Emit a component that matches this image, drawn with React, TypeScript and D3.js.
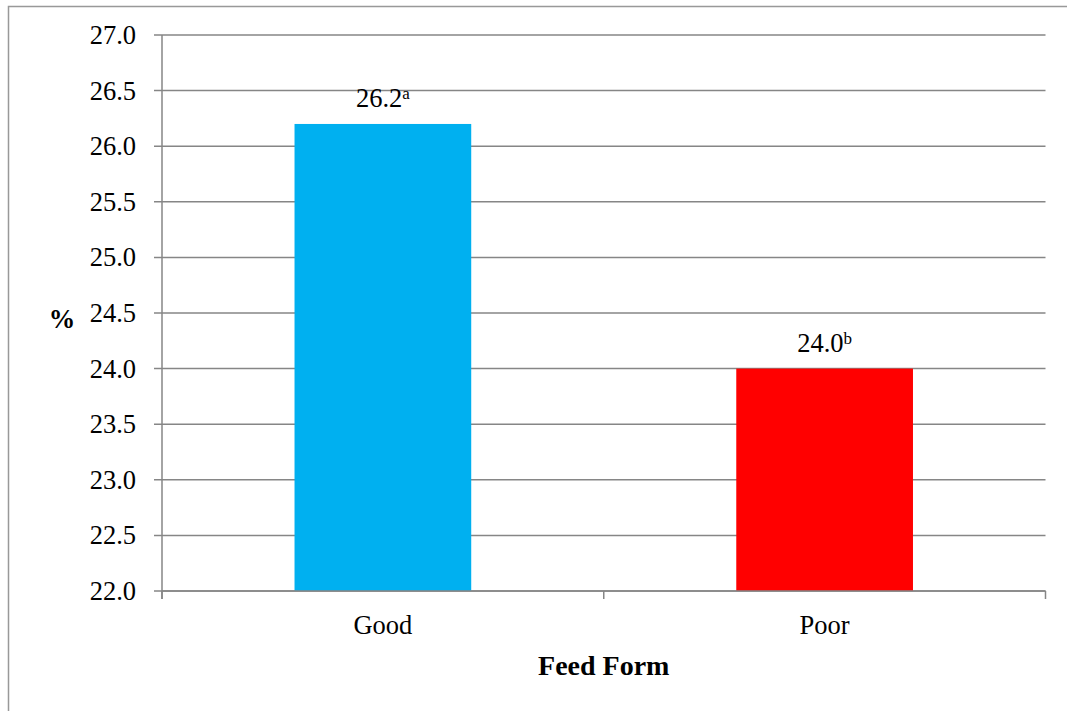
import React from "react";
import * as d3 from "d3";

const categories = ["Good", "Poor"];
const values = [26.2, 24.0];
const superscripts = ["a", "b"];
const barColors = ["#00B0F0", "#FF0000"];
const yTicks = [22.0, 22.5, 23.0, 23.5, 24.0, 24.5, 25.0, 25.5, 26.0, 26.5, 27.0];

const W = 1067;
const H = 711;
const margin = { left: 162, right: 1045.5, top: 35, bottom: 591 };
const FONT = "'Liberation Serif', 'Times New Roman', serif";
const GRID = "#868686";

export default function App() {
  const x = d3.scaleBand<string>().domain(categories).range([margin.left, margin.right]).paddingInner(0.6).paddingOuter(0.3);
  const xOuter = d3.scaleBand<string>().domain(categories).range([margin.left, margin.right]);
  const y = d3.scaleLinear().domain([22, 27]).range([margin.bottom, margin.top]);
  const fs = 26.5;

  return (
    <svg width={W} height={H} style={{ position: "absolute", left: 0, top: 0, display: "block", background: "#fff" }} fontFamily={FONT}>
      <rect x={8.5} y={6.5} width={W + 10} height={H + 10} fill="#fff" stroke="#999" strokeWidth={1.5} />
      {yTicks.map((t) => (
        <g key={t}>
          <line x1={margin.left - 8} x2={margin.right} y1={y(t)} y2={y(t)} stroke={GRID} strokeWidth={1.5} />
          <text x={136} y={y(t)} dy="0.34em" textAnchor="end" fontSize={fs} fill="#000">
            {t.toFixed(1)}
          </text>
        </g>
      ))}
      {categories.map((c, i) => (
        <rect key={c} x={x(c)} y={y(values[i])} width={x.bandwidth()} height={y(22) - y(values[i])} fill={barColors[i]} />
      ))}
      <line x1={margin.left} x2={margin.left} y1={margin.top} y2={margin.bottom + 8} stroke={GRID} strokeWidth={1.5} />
      <line x1={margin.left} x2={margin.right} y1={margin.bottom} y2={margin.bottom} stroke={GRID} strokeWidth={1.5} />
      {[...categories.map((c) => xOuter(c) as number), margin.right].map((px, i) => (
        <line key={i} x1={px} x2={px} y1={margin.bottom} y2={margin.bottom + 8} stroke={GRID} strokeWidth={1.5} />
      ))}
      {categories.map((c, i) => {
        const cx = (x(c) as number) + x.bandwidth() / 2;
        return (
          <g key={c}>
            <text x={cx} y={y(values[i]) - 17} textAnchor="middle" fontSize={fs} fill="#000">
              {values[i].toFixed(1)}
              <tspan fontSize={17} dy={-8}>{superscripts[i]}</tspan>
            </text>
            <text x={cx} y={634} textAnchor="middle" fontSize={fs} fill="#000">
              {c}
            </text>
          </g>
        );
      })}
      <text x={(margin.left + margin.right) / 2} y={675} textAnchor="middle" fontSize={28} fontWeight="bold" fill="#000">
        Feed Form
      </text>
      <text x={62} y={328} textAnchor="middle" fontSize={fs} fontWeight="bold" fill="#000">
        %
      </text>
    </svg>
  );
}
